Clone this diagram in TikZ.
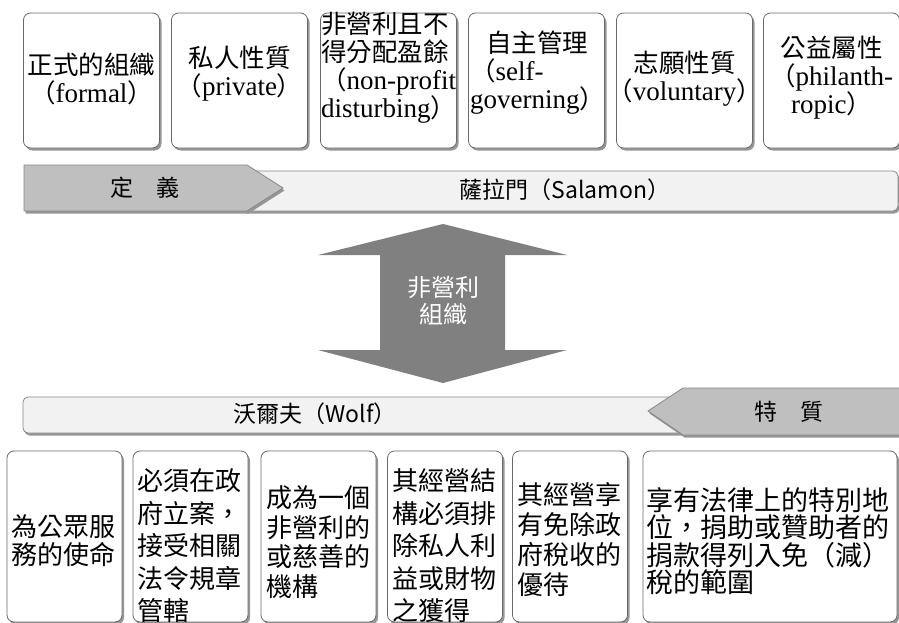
\documentclass[tikz,border=0pt]{standalone}
\usepackage{fontspec}
\setmainfont{Liberation Serif}
\newfontfamily\cjk{Noto Sans CJK TC}
\usetikzlibrary{shadows}
\definecolor{cardline}{RGB}{105,105,105}
\definecolor{shade}{RGB}{150,150,150}
\definecolor{tabgray}{RGB}{191,191,191}
\definecolor{barlight}{RGB}{242,242,242}
\definecolor{barline}{RGB}{135,135,135}
\definecolor{arrowgray}{RGB}{128,128,128}
\newcommand\lat[1]{{\rmfamily\fontsize{27}{28}\selectfont #1}}

\begin{document}
\begin{tikzpicture}[x=1pt,y=-1pt,
	card/.style={draw=cardline, fill=white, line width=0.8pt, rounded corners=7pt, inner sep=0pt,
		drop shadow={shadow xshift=2pt, shadow yshift=-2.5pt, fill=shade, opacity=1}},
	topcard/.style={card, minimum width=136, minimum height=135},
	lowcard/.style={card, minimum width=115, minimum height=171},
	toptext/.style={inner sep=0pt, align=center, font=\cjk\fontsize{25.5}{28}\selectfont},
	lowtext/.style={inner sep=0pt, anchor=west, align=left, font=\cjk\fontsize{26}{#1}\selectfont},
	lowtext/.default=30,
	bar/.style={draw=barline, line width=0.8pt,
		drop shadow={shadow xshift=1.5pt, shadow yshift=-2.5pt, fill=shade, opacity=1}},
	bartext/.style={inner sep=0pt, font=\cjk\fontsize{23}{27}\selectfont}]
	\useasboundingbox (0,0) rectangle (899,623);

	% definition (Salamon)
	\node[topcard] (def1) at (91.5,80.5) {};
	\node[topcard] (def2) at (239.5,80.5) {};
	\node[topcard] (def3) at (388.5,80.5) {};
	\node[topcard] (def4) at (536.5,80.5) {};
	\node[topcard] (def5) at (684.5,80.5) {};
	\node[topcard] (def6) at (831.5,80.5) {};
	\node[toptext] (formal) at (91.5,79) {正式的組織\\（\lat{formal}）};
	\node[toptext] (private) at (239.5,74) {私人性質\\（\lat{private}）};
	\node[toptext, align=left, anchor=west] (profit) at (321,67.5)
	{非營利且不\\得分配盈餘\\（\lat{non-profit}\\\lat{disturbing}）};
	\node[toptext, align=left, anchor=west] (govern) at (470,72.5)
	{\hspace*{16pt}自主管理\\（\lat{self-}\\\lat{governing}）};
	\node[toptext] (volunt) at (684.5,79) {志願性質\\（\lat{voluntary}）};
	\node[toptext] (philan) at (831.5,78) {公益屬性\\（\lat{philanth-}\\\lat{ropic}）};

	\filldraw[bar, fill=barlight, rounded corners=5pt] (240,171) rectangle (898,211);
	\filldraw[bar, fill=tabgray] (24,165) -- (247,165) -- (283,188) -- (247,211) -- (24,211) -- cycle;
	\node[bartext] (defn) at (145,188) {定\hspace{1em}義};
	\node[bartext] (salamon) at (565,190) {薩拉門（Salamon）};

	% non-profit organisation
	\fill[arrowgray] (443,224) -- (567,255) -- (505,255) -- (505,350) -- (567,350)
	-- (443,383) -- (318,350) -- (380,350) -- (380,255) -- (318,255) -- cycle;
	\node[bartext, font=\cjk\fontsize{24}{27}\selectfont, text=white, align=center] (npo) at (443,301)
	{非營利\\組織};

	% traits (Wolf)
	\filldraw[bar, fill=barlight, rounded corners=5pt] (23,397) rectangle (700,433);
	\filldraw[bar, fill=tabgray] (905,388) -- (683,388) -- (648,411) -- (683,435) -- (905,435);
	\node[bartext] (wolf) at (315,414) {沃爾夫（Wolf）};
	\node[bartext] (trait) at (789,412) {特\hspace{1em}質};

	\node[lowcard] (tr1) at (64.5,536.5) {};
	\node[lowcard] (tr2) at (190.5,536.5) {};
	\node[lowcard] (tr3) at (318.5,536.5) {};
	\node[lowcard] (tr4) at (445,536.5) {};
	\node[lowcard] (tr5) at (570,536.5) {};
	\node[lowcard, minimum width=254] (tr6) at (770,536.5) {};
	\node[lowtext=28] (mission) at (11,541) {為公眾服\\務的使命};
	\node[lowtext=32.5] (register) at (137,546) {必須在政\\府立案，\\接受相關\\法令規章\\管轄};
	\node[lowtext=29.5] (charity) at (266,542) {成為一個\\非營利的\\或慈善的\\機構};
	\node[lowtext=32.5] (structure) at (392,546) {其經營結\\構必須排\\除私人利\\益或財物\\之獲得};
	\node[lowtext] (taxfree) at (517,540) {其經營享\\有免除政\\府稅收的\\優待};
	\node[lowtext=27.5, font=\cjk\fontsize{27}{27.5}\selectfont] (status) at (646,541)
	{享有法律上的特別地\\位，捐助或贊助者的\\捐款得列入免（減）\\稅的範圍};
\end{tikzpicture}
\end{document}
